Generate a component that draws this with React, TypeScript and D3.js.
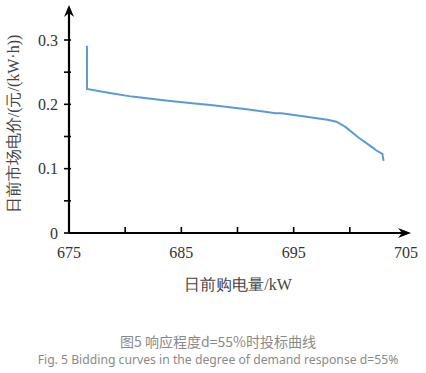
import React from 'react';
import * as d3 from 'd3';

// bidding curve
const quantity = [676.6, 676.6, 678.5, 680.6, 684, 688, 691, 693.4, 693.9, 696, 698, 698.8, 699.6, 700.8, 702.1, 702.3, 702.9, 703.0];
const price = [0.291, 0.224, 0.218, 0.212, 0.205, 0.198, 0.192, 0.186, 0.186, 0.181, 0.176, 0.173, 0.165, 0.148, 0.132, 0.129, 0.123, 0.112];

const xTicks = [675, 680, 685, 690, 695, 700, 705];
const xLabels = [675, 685, 695, 705];
const yTicks = [0, 0.05, 0.1, 0.15, 0.2, 0.25, 0.3];
const yLabels = [0, 0.1, 0.2, 0.3];

const App = () => {
  const x = d3.scaleLinear().domain([675, 705]).range([69, 406]);
  const y = d3.scaleLinear().domain([0, 0.3]).range([233, 40]);

  const points = quantity.map((q, i) => [q, price[i]] as [number, number]);
  const line = d3
    .line<[number, number]>()
    .x(d => x(d[0]))
    .y(d => y(d[1]));

  const serif = '"Liberation Serif", "Times New Roman", serif';
  const x0 = x(675);
  const y0 = y(0);

  return (
    <svg
      width={426}
      height={373}
      style={{ position: 'absolute', left: 0, top: 0, background: '#fff' }}
    >
      {/* y axis with arrow */}
      <line x1={x0} y1={y0} x2={x0} y2={8} stroke="#000" strokeWidth={2.2} />
      <path d={`M${x0 - 5},${17} L${x0},${5} L${x0 + 5},${17} L${x0},${13} Z`} fill="#000" />
      {/* x axis with arrow */}
      <line x1={x0} y1={y0} x2={408} y2={y0} stroke="#000" strokeWidth={2.2} />
      <path d={`M${398},${y0 - 5} L${411},${y0} L${398},${y0 + 5} L${402},${y0} Z`} fill="#000" />

      {yTicks.map(t => (
        <line key={'yt' + t} x1={x0 - 5} x2={x0 + 2} y1={y(t)} y2={y(t)} stroke="#000" strokeWidth={1.6} />
      ))}
      {xTicks.slice(1, -1).map(t => (
        <line key={'xt' + t} x1={x(t)} x2={x(t)} y1={y0} y2={y0 - 6} stroke="#000" strokeWidth={1.6} />
      ))}

      {yLabels.map(t => (
        <text key={'yl' + t} x={58} y={y(t)} dy="0.35em" textAnchor="end" fontFamily={serif} fontSize={16} fill="#333">
          {t}
        </text>
      ))}
      {xLabels.map(t => (
        <text key={'xl' + t} x={x(t)} y={258} textAnchor="middle" fontFamily={serif} fontSize={16} fill="#333">
          {t}
        </text>
      ))}

      <text
        transform={`translate(19,124) rotate(-90)`}
        textAnchor="middle"
        fontFamily={serif}
        fontSize={16}
        fill="#444"
      >
        日前市场电价/(元/(kW·h))
      </text>
      <text x={238} y={290} textAnchor="middle" fontFamily={serif} fontSize={16} fill="#444">
        日前购电量/kW
      </text>

      <path d={line(points) || ''} fill="none" stroke="#5b9bd5" strokeWidth={2} />

      <text x={218} y={347} textAnchor="middle" fontFamily='"Noto Sans CJK SC", "Noto Sans", sans-serif' fontSize={14} fill="#8a8a8a">
        图5 响应程度d=55%时投标曲线
      </text>
      <text x={218} y={364} textAnchor="middle" fontFamily='"Noto Sans", "Open Sans", sans-serif' fontSize={12.2} fill="#8a8a8a">
        Fig. 5 Bidding curves in the degree of demand response d=55%
      </text>
    </svg>
  );
};

export default App;
